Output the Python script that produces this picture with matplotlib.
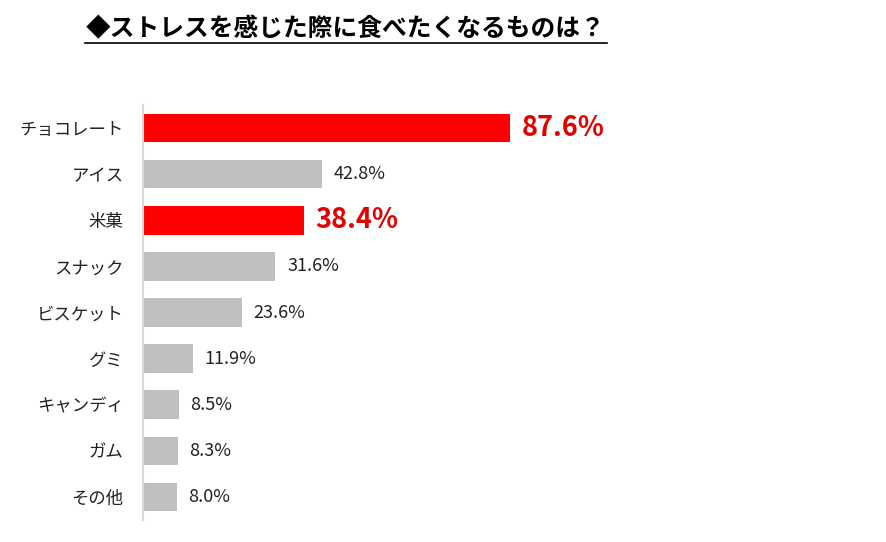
import matplotlib
matplotlib.use("Agg")
import matplotlib.pyplot as plt
from matplotlib.lines import Line2D

plt.rcParams['font.family'] = ['Noto Sans CJK JP', 'DejaVu Sans']

categories = ["チョコレート", "アイス", "米菓", "スナック", "ビスケット", "グミ", "キャンディ", "ガム", "その他"]
values = [87.6, 42.8, 38.4, 31.6, 23.6, 11.9, 8.5, 8.3, 8.0]
highlight = [True, False, True, False, False, False, False, False, False]
title = "◆ストレスを感じた際に食べたくなるものは？"

fig = plt.figure(figsize=(8.86, 5.42), dpi=100)
ax = fig.add_axes([143/886, 1-520/542, 419/886, 415/542])

colors = ["#ff0000" if h else "#bfbfbf" for h in highlight]
y = list(range(len(categories)))
ax.barh(y, values, height=0.62, color=colors)
ax.set_ylim(len(categories)-0.5, -0.5)
ax.set_xlim(0, 100)
ax.set_yticks(y)
ax.set_yticklabels(categories, fontsize=12.5, color="#222222")
ax.tick_params(axis='y', length=0, pad=14)
ax.set_xticks([])
for s in ["top", "right", "bottom"]:
    ax.spines[s].set_visible(False)
ax.spines["left"].set_color("#d9d9d9")
ax.spines["left"].set_linewidth(1.5)

for yi, v, h in zip(y, values, highlight):
    if h:
        ax.text(v + 2.8, yi, f"{v:.1f}%", va="center", ha="left",
                fontsize=19.5, fontweight="bold", color="#e00000")
    else:
        ax.text(v + 2.8, yi, f"{v:.1f}%", va="center", ha="left",
                fontsize=13, color="#222222")

fig.text(346/886, 1-29/542, title, ha="center", va="center",
         fontsize=17.8, fontweight="bold", color="#000000")
fig.add_artist(Line2D([85/886, 607/886], [1-43/542, 1-43/542],
                      color="black", linewidth=1.2))

fig.savefig("out.png", dpi=100)
